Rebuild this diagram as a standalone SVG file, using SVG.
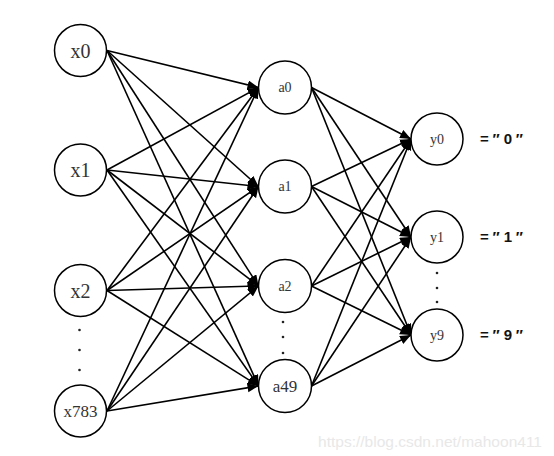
<svg xmlns="http://www.w3.org/2000/svg" width="554" height="456" viewBox="0 0 554 456">
<style>
.n{fill:#fff;stroke:#000;stroke-width:1.5}
.t{font-family:"Liberation Serif","Times New Roman",serif;fill:#333;text-anchor:middle;dominant-baseline:central}
.e{stroke:#000;stroke-width:1.6;fill:none;marker-end:url(#ah)}
.dot{fill:#222}
.lbl{font-family:"Liberation Sans",Arial,sans-serif;font-weight:bold;font-size:15px;fill:#111}
</style>
<defs>
<marker id="ah" markerUnits="userSpaceOnUse" markerWidth="12" markerHeight="10" refX="11" refY="4.5" orient="auto">
<path d="M0,0 L11,4.5 L0,9 z" fill="#000"/>
</marker>
</defs>
<rect width="554" height="456" fill="#fff"/>
<g id="connectors">
<line class="e" x1="107" y1="50.5" x2="258.5" y2="87.5"/>
<line class="e" x1="107" y1="50.5" x2="258.5" y2="186.5"/>
<line class="e" x1="107" y1="50.5" x2="258.5" y2="286"/>
<line class="e" x1="107" y1="50.5" x2="258.5" y2="386"/>
<line class="e" x1="107" y1="170" x2="258.5" y2="87.5"/>
<line class="e" x1="107" y1="170" x2="258.5" y2="186.5"/>
<line class="e" x1="107" y1="170" x2="258.5" y2="286"/>
<line class="e" x1="107" y1="170" x2="258.5" y2="386"/>
<line class="e" x1="107" y1="290.5" x2="258.5" y2="87.5"/>
<line class="e" x1="107" y1="290.5" x2="258.5" y2="186.5"/>
<line class="e" x1="107" y1="290.5" x2="258.5" y2="286"/>
<line class="e" x1="107" y1="290.5" x2="258.5" y2="386"/>
<line class="e" x1="107" y1="411" x2="258.5" y2="87.5"/>
<line class="e" x1="107" y1="411" x2="258.5" y2="186.5"/>
<line class="e" x1="107" y1="411" x2="258.5" y2="286"/>
<line class="e" x1="107" y1="411" x2="258.5" y2="386"/>
<line class="e" x1="311.5" y1="87.5" x2="411" y2="139"/>
<line class="e" x1="311.5" y1="87.5" x2="411" y2="237"/>
<line class="e" x1="311.5" y1="87.5" x2="411" y2="335"/>
<line class="e" x1="311.5" y1="186.5" x2="411" y2="139"/>
<line class="e" x1="311.5" y1="186.5" x2="411" y2="237"/>
<line class="e" x1="311.5" y1="186.5" x2="411" y2="335"/>
<line class="e" x1="311.5" y1="286" x2="411" y2="139"/>
<line class="e" x1="311.5" y1="286" x2="411" y2="237"/>
<line class="e" x1="311.5" y1="286" x2="411" y2="335"/>
<line class="e" x1="311.5" y1="386" x2="411" y2="139"/>
<line class="e" x1="311.5" y1="386" x2="411" y2="237"/>
<line class="e" x1="311.5" y1="386" x2="411" y2="335"/>
</g>
<g id="x0"><circle class="n" cx="80.5" cy="50.5" r="26"/><text class="t" x="80.5" y="50.5" font-size="20">x0</text></g>
<g id="x1"><circle class="n" cx="80.5" cy="170" r="26"/><text class="t" x="80.5" y="170" font-size="20">x1</text></g>
<g id="x2"><circle class="n" cx="80.5" cy="290.5" r="26"/><text class="t" x="80.5" y="290.5" font-size="20">x2</text></g>
<g id="x783"><circle class="n" cx="80.5" cy="411" r="26"/><text class="t" x="80.5" y="411" font-size="17">x783</text></g>
<g id="a0"><circle class="n" cx="285" cy="87.5" r="26.5"/><text class="t" x="285" y="87.5" font-size="14">a0</text></g>
<g id="a1"><circle class="n" cx="285" cy="186.5" r="26.5"/><text class="t" x="285" y="186.5" font-size="14">a1</text></g>
<g id="a2"><circle class="n" cx="285" cy="286" r="26.5"/><text class="t" x="285" y="286" font-size="14">a2</text></g>
<g id="a49"><circle class="n" cx="285" cy="386" r="26.5"/><text class="t" x="285" y="386" font-size="17">a49</text></g>
<g id="y0"><circle class="n" cx="437" cy="139" r="26"/><text class="t" x="437" y="139" font-size="14" fill="#444">y0</text></g>
<g id="y1"><circle class="n" cx="437" cy="237" r="26"/><text class="t" x="437" y="237" font-size="14" fill="#444">y1</text></g>
<g id="y9"><circle class="n" cx="437" cy="335" r="26"/><text class="t" x="437" y="335" font-size="14" fill="#444">y9</text></g>
<g id="dots">
<circle class="dot" cx="79.5" cy="330" r="1.3"/>
<circle class="dot" cx="79.5" cy="350" r="1.3"/>
<circle class="dot" cx="79.5" cy="370" r="1.3"/>
<circle class="dot" cx="283" cy="322" r="1.3"/>
<circle class="dot" cx="283" cy="337" r="1.3"/>
<circle class="dot" cx="283" cy="353" r="1.3"/>
<circle class="dot" cx="437" cy="273" r="1.3"/>
<circle class="dot" cx="437" cy="288" r="1.3"/>
<circle class="dot" cx="437" cy="302" r="1.3"/>
</g>
<g id="labels">
<text class="lbl" x="480" y="144" textLength="43" lengthAdjust="spacing">=″0″</text>
<text class="lbl" x="480" y="242" textLength="43" lengthAdjust="spacing">=″1″</text>
<text class="lbl" x="480" y="340" textLength="43" lengthAdjust="spacing">=″9″</text>
</g>
<text x="318" y="447" font-family="'Liberation Sans',Arial,sans-serif" font-size="15" textLength="224" lengthAdjust="spacingAndGlyphs" fill="#e8e8e8">https://blog.csdn.net/mahoon411</text>
</svg>
